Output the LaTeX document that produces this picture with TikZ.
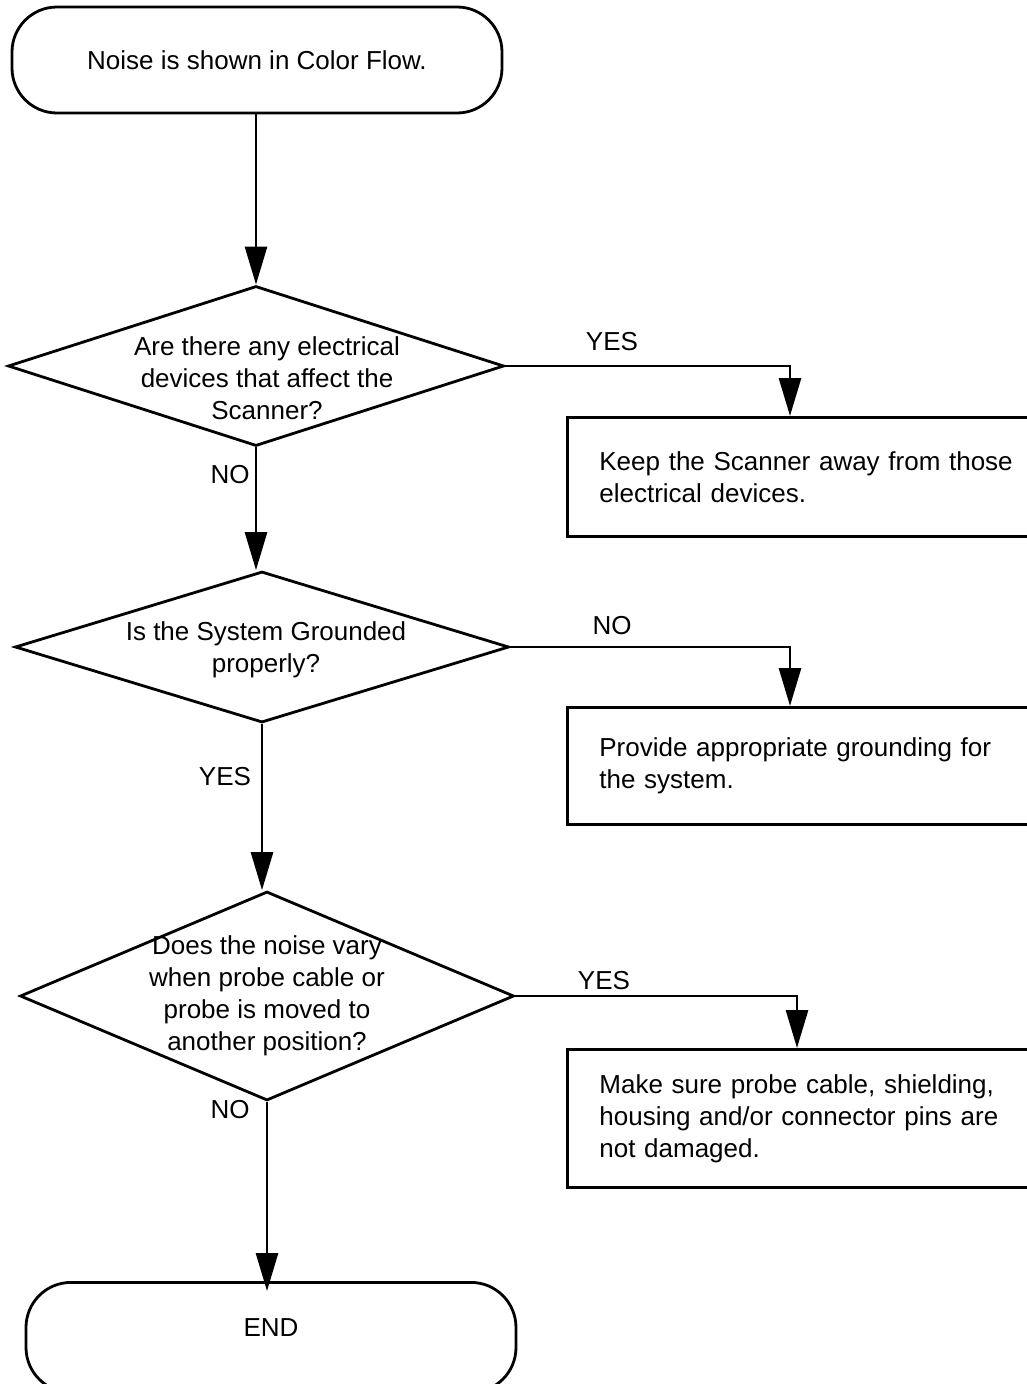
\documentclass[tikz,border=0pt]{standalone}
\usepackage{fontspec}
\setmainfont{Liberation Sans}
\usetikzlibrary{
  arrows.meta,
  positioning,
  shapes.geometric
}

\begin{document}
\begin{tikzpicture}[
  x=1pt, y=-1pt,
  every node/.style={font=\fontsize{26}{32}\selectfont},
  terminal/.style={draw, line width=2.8pt, rounded corners=45pt,
    minimum width=490pt, minimum height=106pt},
  decision/.style={draw, diamond, line width=2.8pt, inner sep=0pt},
  qtext/.style={align=center, inner sep=0pt},
  action/.style={draw, line width=2.8pt, anchor=north west, align=left,
    text width=440pt, inner xsep=32pt},
  answer/.style={inner sep=0pt},
  arrow/.style={-{Triangle[length=38pt, width=22pt]}, line width=2.8pt}
]
  \clip (0,0) rectangle (1027,1384);

  % main column
  \node[terminal] (start) at (257,60) {Noise is shown in Color Flow.};

  \node[decision, minimum width=496pt, minimum height=160pt] (q1) at (256,366) {};
  \node[qtext] (q1t) at ([xshift=11pt, yshift=-12pt]q1.center)
    {Are there any electrical\\devices that affect the\\Scanner?};

  \node[decision, minimum width=494pt, minimum height=151pt] (q2) at (262,647) {};
  \node[qtext] (q2t) at ([xshift=4pt, yshift=-3pt]q2.center)
    {Is the System Grounded\\properly?};

  \node[decision, minimum width=494pt, minimum height=209pt] (q3) at (267,996) {};
  \node[qtext] (q3t) at (q3.center)
    {Does the noise vary\\when probe cable or\\probe is moved to\\another position?};

  \node[terminal, minimum height=110pt, anchor=north] (stop) at (271,1281) {};
  \node (stopt) at (271,1328) {END};

  % actions on the right
  \node[action, minimum height=119pt] (a1) at (566,416)
    {Keep the Scanner away from those\\electrical devices.};
  \node[action, minimum height=117pt] (a2) at (566,706)
    {Provide appropriate grounding for\\the system.};
  \node[action, minimum height=138pt] (a3) at (566,1048)
    {Make sure probe cable, shielding,\\housing and/or connector pins are\\not damaged.};

  \draw[arrow] (start.south -| q1.north) -- (q1.north);
  \draw[arrow] (q1.south) -- (q1.south |- q2.north);
  \draw[arrow] (q2.south) -- (q2.south |- q3.north);
  \draw[arrow, shorten >=-10pt] (q3.south) -- (q3.south |- stop.north);

  \draw[arrow] (q1.east) -| ([xshift=224pt]a1.north west);
  \draw[arrow] (q2.east) -| ([xshift=224pt]a2.north west);
  \draw[arrow] (q3.east) -| ([xshift=231pt]a3.north west);

  % answers
  \node[answer] (y1) at (612,342) {YES};
  \node[answer] (n1) at (230,475) {NO};
  \node[answer] (n2) at (612,626) {NO};
  \node[answer] (y2) at (225,777) {YES};
  \node[answer] (y3) at (604,981) {YES};
  \node[answer] (n3) at (230,1110) {NO};

\end{tikzpicture}
\end{document}
